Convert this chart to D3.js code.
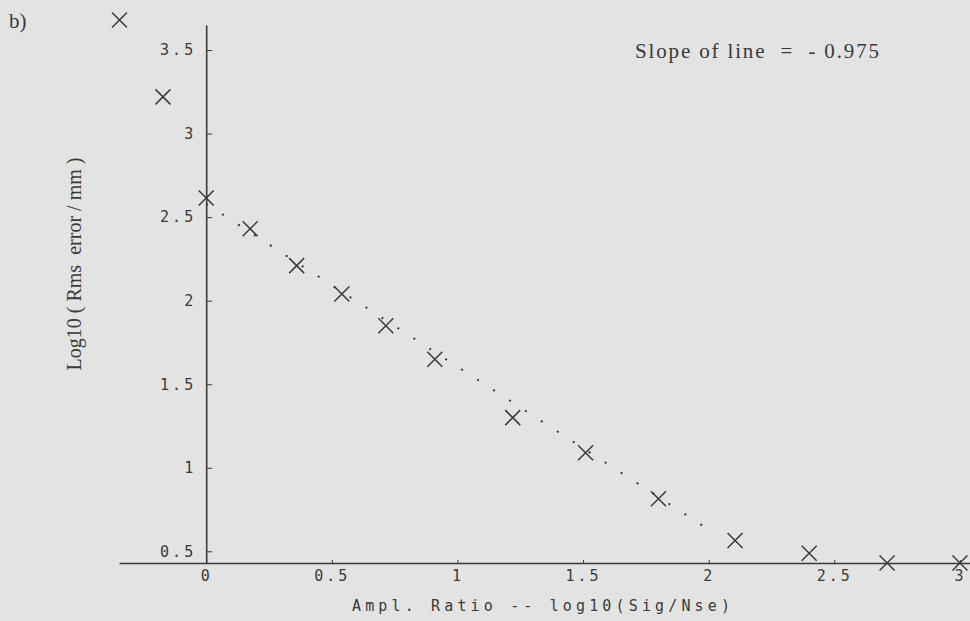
<!DOCTYPE html>
<html>
<head>
<meta charset="utf-8">
<script src="https://cdn.jsdelivr.net/npm/d3@7"></script>
<style>
  html, body { margin: 0; padding: 0; background: #e3e3e3; }
  svg { display: block; }
</style>
</head>
<body>
<svg id="chart" width="970" height="621"></svg>
<script>
// Amplitude ratio (log10 Sig/Nse) against log10 of the rms error
const ratio = [-0.345, -0.172, 0, 0.175, 0.36, 0.54, 0.715, 0.91, 1.22, 1.51, 1.80, 2.105, 2.40, 2.71, 3.0];
const rmsErr = [3.68, 3.22, 2.615, 2.43, 2.21, 2.04, 1.85, 1.65, 1.30, 1.09, 0.815, 0.565, 0.488, 0.43, 0.43];

// Fitted line
const fitSlope = -0.975;
const fitIntercept = 2.58;
const fitRange = [0, 2.03];

const xTicks = [0, 0.5, 1, 1.5, 2, 2.5, 3];
const yTicks = [0.5, 1, 1.5, 2, 2.5, 3, 3.5];

const ink = "#3a3a3a";
const svg = d3.select("#chart");

const x = d3.scaleLinear().domain([-0.347, 3.04]).range([119, 970]);
const y = d3.scaleLinear().domain([0.43, 3.65]).range([563, 25]);

const monoFont = "'DejaVu Sans Mono', 'Liberation Mono', monospace";
const serifFont = "'Liberation Serif', 'DejaVu Serif', serif";

// Horizontal axis, crossing at the lowest y value
const gx = svg.append("g")
  .attr("transform", `translate(0,${y(0.43)})`)
  .call(d3.axisBottom(x).tickValues(xTicks).tickFormat(d3.format("")).tickSize(-3).tickSizeOuter(0).tickPadding(7));

// Vertical axis at x = 0, ticks pointing inward
const gy = svg.append("g")
  .attr("transform", `translate(${x(0)},0)`)
  .call(d3.axisLeft(y).tickValues(yTicks).tickFormat(d3.format("")).tickSize(-6).tickSizeOuter(0).tickPadding(10));

[gx, gy].forEach(g => {
  g.select(".domain").attr("stroke", ink).attr("stroke-width", 1.6);
  g.selectAll(".tick line").attr("stroke", ink).attr("stroke-width", 1);
  g.selectAll(".tick text")
    .attr("fill", ink)
    .style("font-family", monoFont)
    .style("font-size", "15px")
    .style("letter-spacing", "3px");
});

// Dotted fit line
svg.append("line")
  .attr("x1", x(fitRange[0])).attr("y1", y(fitIntercept + fitSlope * fitRange[0]))
  .attr("x2", x(fitRange[1])).attr("y2", y(fitIntercept + fitSlope * fitRange[1]))
  .attr("stroke", ink)
  .attr("stroke-width", 2)
  .attr("stroke-dasharray", "2 17");

// Cross markers
const half = 7.5;
const pts = ratio.map((r, i) => [r, rmsErr[i]]);
svg.append("g").selectAll("path")
  .data(pts)
  .join("path")
  .attr("d", d => {
    const cx = x(d[0]), cy = y(d[1]);
    return `M${cx - half},${cy - half}L${cx + half},${cy + half}M${cx - half},${cy + half}L${cx + half},${cy - half}`;
  })
  .attr("stroke", ink)
  .attr("stroke-width", 1.5)
  .attr("fill", "none");

// Panel tag
svg.append("text")
  .attr("x", 9).attr("y", 28)
  .attr("fill", ink)
  .style("font-family", serifFont)
  .style("font-size", "21px")
  .text("b)");

// Slope annotation
svg.append("text")
  .attr("x", 635).attr("y", 58)
  .attr("fill", ink)
  .attr("textLength", 244)
  .attr("lengthAdjust", "spacing")
  .style("font-family", serifFont)
  .style("font-size", "21px")
  .style("white-space", "pre")
  .text("Slope of line  =  - 0.975");

// Axis titles
svg.append("text")
  .attr("transform", "translate(81,264) rotate(-90)")
  .attr("text-anchor", "middle")
  .attr("fill", ink)
  .attr("textLength", 213)
  .attr("lengthAdjust", "spacing")
  .style("font-family", serifFont)
  .style("font-size", "20px")
  .style("white-space", "pre")
  .text("Log10 ( Rms  error / mm )");

svg.append("text")
  .attr("x", 352).attr("y", 611)
  .attr("fill", ink)
  .attr("textLength", 378)
  .attr("lengthAdjust", "spacing")
  .style("font-family", monoFont)
  .style("font-size", "15px")
  .style("white-space", "pre")
  .text("Ampl. Ratio -- log10(Sig/Nse)");
</script>
</body>
</html>
